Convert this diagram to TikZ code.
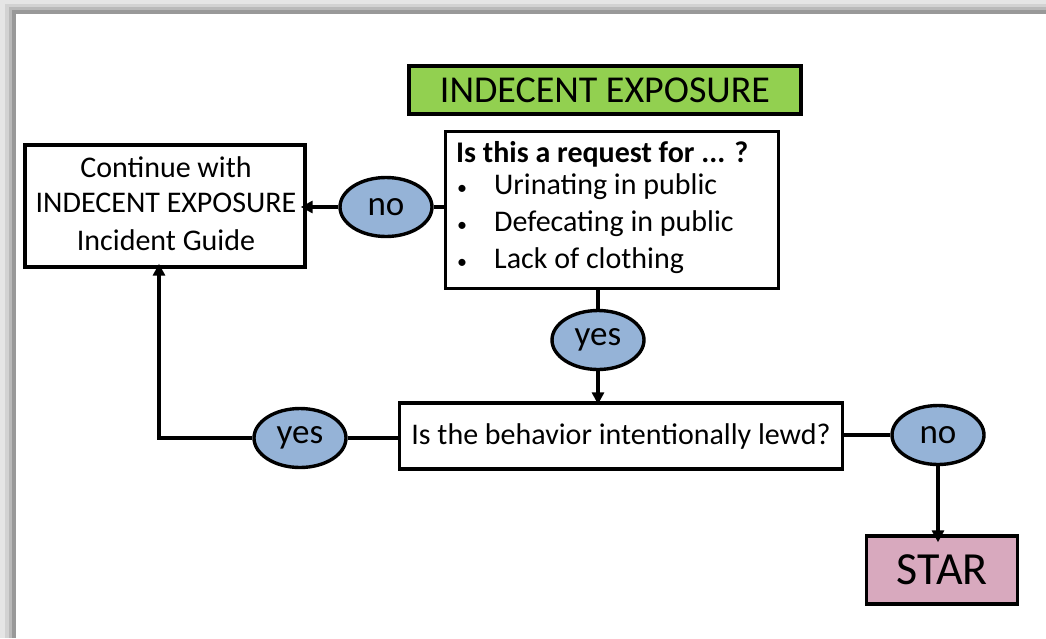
\documentclass[tikz,border=0pt]{standalone}
\usepackage{fontspec}
\setmainfont{Carlito}
\usetikzlibrary{shapes.geometric,arrows.meta}
\definecolor{titlegreen}{HTML}{92D050}
\definecolor{ansblue}{HTML}{95B3D7}
\definecolor{starpink}{HTML}{D8A9BE}
\tikzset{
  box/.style={draw=black,line width=3.4pt,fill=white,inner sep=0pt},
  ans/.style={ellipse,draw=black,line width=3.4pt,fill=ansblue,minimum width=92pt,minimum height=59pt,inner sep=0pt,font=\fontsize{35}{35}\selectfont},
  txt/.style={inner sep=0pt,font=\fontsize{30}{36}\selectfont},
  bul/.style={inner sep=0pt,font=\fontsize{20}{20}\selectfont},
  conn/.style={line width=3.4pt},
  arr/.style={line width=3.4pt,-{Triangle[length=12pt,width=12pt]}},
}
\begin{document}
\begin{tikzpicture}[x=1pt,y=-1pt]
\useasboundingbox (0,0) rectangle (1046,638);
% frame shadow
\fill[gray!20] (0,0) rectangle (1046,638);
\fill[gray!35] (5,4) rectangle (1046,638);
\fill[gray!55] (9,7) rectangle (1046,638);
\fill[gray!80] (12,10) rectangle (1046,638);
\fill[white] (16,14) rectangle (1046,638);

% title
\node[box,fill=titlegreen,minimum width=392pt,minimum height=48pt,font=\fontsize{38}{38}\selectfont] (title) at (605,90) {INDECENT EXPOSURE};

% question box
\node[box,minimum width=333pt,minimum height=157pt] (q) at (612,210) {};
\node[txt,anchor=west,font=\fontsize{30}{36}\selectfont\bfseries] (q0) at (456,154) {Is this a request for ... ?};
\node[bul] (b1) at (462,190) {\textbullet};
\node[bul] (b2) at (462,227) {\textbullet};
\node[bul] (b3) at (462,264) {\textbullet};
\node[txt,anchor=west] (q1) at (494,187) {Urinating in public};
\node[txt,anchor=west] (q2) at (494,224) {Defecating in public};
\node[txt,anchor=west] (q3) at (494,261) {Lack of clothing};

% left box
\node[box,minimum width=280pt,minimum height=122pt] (cont) at (165,206) {};
\node[txt] (c1) at (166,167) {Continue with};
\node[txt] (c2) at (166,203) {INDECENT EXPOSURE};
\node[txt] (c3) at (166,240) {Incident Guide};

% lewd box
\node[box,minimum width=443pt,minimum height=66pt,txt] (lewd) at (621,436) {Is the behavior intentionally lewd?};

% STAR
\node[box,fill=starpink,minimum width=151pt,minimum height=68pt,font=\fontsize{46}{46}\selectfont] (star) at (942,570) {STAR};

% answers
\node[ans] (no1) at (386,207) {no};
\node[ans] (yes1) at (598,340) {yes};
\node[ans] (yes2) at (300,438) {yes};
\node[ans] (no2) at (938,435) {no};

\coordinate (corner) at (159,438);

% connectors
\draw[conn] (q.west |- no1) -- (no1.east);
\draw[arr] (no1.west) -- ([xshift=-6pt]cont.east |- no1);
\draw[conn] (q.south -| yes1) -- (yes1.north);
\draw[arr] (yes1.south) -- ([yshift=-3pt]lewd.north -| yes1);
\draw[conn] (lewd.west |- yes2) -- (yes2.east);
\draw[arr] (yes2.west) -- (corner) -- ([yshift=5pt]cont.south -| corner);
\draw[conn] (lewd.east |- no2) -- (no2.west);
\draw[arr] (no2.south) -- ([yshift=-8pt]star.north -| no2);
\end{tikzpicture}
\end{document}
